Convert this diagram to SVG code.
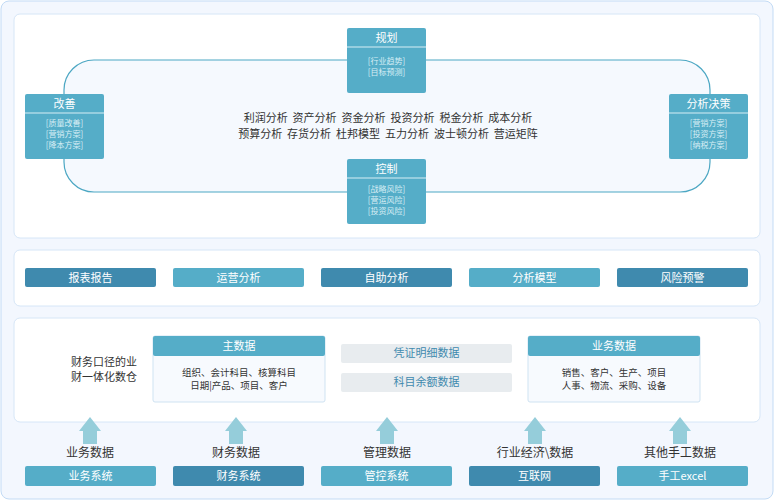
<svg xmlns="http://www.w3.org/2000/svg" width="774" height="500" viewBox="0 0 774 500">
<style>
text{font-family:"Noto Sans CJK SC","Liberation Sans",sans-serif;text-anchor:middle}
.panel{fill:#fff;stroke:#d6e6f7;stroke-width:1}
.hd{fill:#55adc8}
.dk{fill:#3f8aae}
.wt{fill:#fff;font-size:11px}
.sm{fill:#d8eef5;font-size:8px}
.t{fill:#333;font-size:11px}
.body{fill:#f7fafe;stroke:#cfe3f2}
.gray{fill:#e8ecef}
.arr{fill:#95cdda}
</style>
<rect x="1" y="1" width="772" height="498" rx="8" fill="#f3f7fe" stroke="#c3dbf5"/>
<rect class="panel" x="14" y="14" width="746" height="224" rx="6"/>
<rect class="panel" x="14" y="250" width="746" height="56" rx="6"/>
<rect class="panel" x="14" y="318" width="746" height="104" rx="6"/>
<g id="connectors">
<rect x="64" y="60" width="646" height="132" rx="30" fill="#f5f9fe" stroke="#4ca7c3" stroke-width="1.2"/>
<g class="arr">
<rect x="83" y="430" width="14" height="14"/><polygon points="79,431 90,417 101,431"/>
<rect x="229" y="430" width="14" height="14"/><polygon points="225,431 236,417 247,431"/>
<rect x="380" y="430" width="14" height="14"/><polygon points="376,431 387,417 398,431"/>
<rect x="528" y="430" width="14" height="14"/><polygon points="524,431 535,417 546,431"/>
<rect x="673" y="430" width="14" height="14"/><polygon points="669,431 680,417 691,431"/>
</g>
</g>
<text class="t" x="388" y="122" xml:space="preserve" style="white-space:pre">利润分析  资产分析  资金分析  投资分析  税金分析  成本分析</text>
<text class="t" x="388" y="138" xml:space="preserve" style="white-space:pre">预算分析  存货分析  杜邦模型  五力分析  波士顿分析  营运矩阵</text>
<g id="n-guihua"><rect class="hd" x="347" y="28" width="79" height="65" rx="2"/><line x1="347" y1="47" x2="426" y2="47" stroke="#d8eef5"/><text class="wt" x="386.5" y="42">规划</text><text class="sm" x="386.5" y="64">[行业趋势]</text><text class="sm" x="386.5" y="75">[目标预测]</text></g>
<g id="n-gaishan"><rect class="hd" x="25" y="94" width="79" height="65" rx="2"/><line x1="25" y1="113" x2="104" y2="113" stroke="#d8eef5"/><text class="wt" x="64.5" y="108">改善</text><text class="sm" x="64.5" y="126">[质量改善]</text><text class="sm" x="64.5" y="137">[营销方案]</text><text class="sm" x="64.5" y="148">[降本方案]</text></g>
<g id="n-juece"><rect class="hd" x="669" y="94" width="79" height="65" rx="2"/><line x1="669" y1="113" x2="748" y2="113" stroke="#d8eef5"/><text class="wt" x="708.5" y="108">分析决策</text><text class="sm" x="708.5" y="126">[营销方案]</text><text class="sm" x="708.5" y="137">[投资方案]</text><text class="sm" x="708.5" y="148">[纳税方案]</text></g>
<g id="n-kongzhi"><rect class="hd" x="347" y="159" width="79" height="65" rx="2"/><line x1="347" y1="178" x2="426" y2="178" stroke="#d8eef5"/><text class="wt" x="386.5" y="173">控制</text><text class="sm" x="386.5" y="192">[战略风险]</text><text class="sm" x="386.5" y="203">[营运风险]</text><text class="sm" x="386.5" y="214">[投资风险]</text></g>
<g id="apps">
<rect class="dk" x="25" y="268" width="131" height="19" rx="2"/><text class="wt" x="90.5" y="281.5">报表报告</text>
<rect class="hd" x="173" y="268" width="131" height="19" rx="2"/><text class="wt" x="238.5" y="281.5">运营分析</text>
<rect class="dk" x="321" y="268" width="131" height="19" rx="2"/><text class="wt" x="386.5" y="281.5">自助分析</text>
<rect class="hd" x="469" y="268" width="131" height="19" rx="2"/><text class="wt" x="534.5" y="281.5">分析模型</text>
<rect class="dk" x="617" y="268" width="131" height="19" rx="2"/><text class="wt" x="682.5" y="281.5">风险预警</text>
</g>
<text class="t" x="104" y="366">财务口径的业</text>
<text class="t" x="104" y="381">财一体化数仓</text>
<g id="n-main"><rect class="body" x="153" y="336" width="172" height="66" rx="2"/><rect class="hd" x="153" y="336" width="172" height="20" rx="2"/><text class="wt" x="239" y="350">主数据</text><text class="t" x="239" y="376" style="font-size:9.5px">组织、会计科目、核算科目</text><text class="t" x="239" y="389" style="font-size:9.5px">日期|产品、项目、客户</text></g>
<g id="n-pz"><rect class="gray" x="341" y="344" width="171" height="19" rx="2"/><text x="426.5" y="357" fill="#3f8aae" font-size="11">凭证明细数据</text></g>
<g id="n-km"><rect class="gray" x="341" y="373" width="171" height="19" rx="2"/><text x="426.5" y="386" fill="#3f8aae" font-size="11">科目余额数据</text></g>
<g id="n-yw"><rect class="body" x="528" y="336" width="172" height="66" rx="2"/><rect class="hd" x="528" y="336" width="172" height="20" rx="2"/><text class="wt" x="614" y="350">业务数据</text><text class="t" x="614" y="376" style="font-size:9.5px">销售、客户、生产、项目</text><text class="t" x="614" y="389" style="font-size:9.5px">人事、物流、采购、设备</text></g>
<g class="t">
<text x="90" y="457" font-size="12">业务数据</text>
<text x="236" y="457" font-size="12">财务数据</text>
<text x="387" y="457" font-size="12">管理数据</text>
<text x="535" y="457" font-size="12">行业经济\数据</text>
<text x="680" y="457" font-size="12">其他手工数据</text>
</g>
<g id="sources">
<rect class="hd" x="25" y="466" width="131" height="20" rx="2"/><text class="wt" x="90.5" y="480">业务系统</text>
<rect class="dk" x="173" y="466" width="131" height="20" rx="2"/><text class="wt" x="238.5" y="480">财务系统</text>
<rect class="hd" x="321" y="466" width="131" height="20" rx="2"/><text class="wt" x="386.5" y="480">管控系统</text>
<rect class="dk" x="469" y="466" width="131" height="20" rx="2"/><text class="wt" x="534.5" y="480">互联网</text>
<rect class="hd" x="617" y="466" width="131" height="20" rx="2"/><text class="wt" x="682.5" y="480">手工excel</text>
</g>
</svg>
